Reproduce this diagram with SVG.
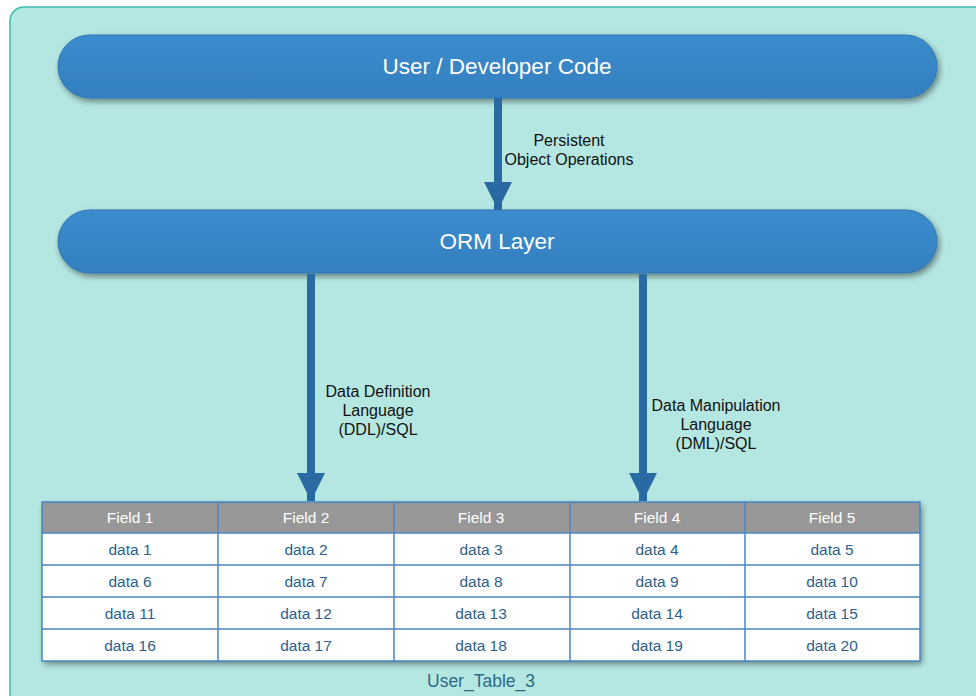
<svg xmlns="http://www.w3.org/2000/svg" width="976" height="696" viewBox="0 0 976 696">
  <defs>
    <linearGradient id="pillGrad" x1="0" y1="0" x2="0" y2="1">
      <stop offset="0" stop-color="#3b8ccd"/>
      <stop offset="1" stop-color="#347fbf"/>
    </linearGradient>
    <filter id="shadow" x="-5%" y="-30%" width="110%" height="170%">
      <feGaussianBlur in="SourceAlpha" stdDeviation="3"/>
      <feOffset dx="2" dy="3" result="b"/>
      <feComponentTransfer><feFuncA type="linear" slope="0.45"/></feComponentTransfer>
      <feMerge><feMergeNode/><feMergeNode in="SourceGraphic"/></feMerge>
    </filter>
    <marker id="head" viewBox="0 0 28 28" refX="28" refY="14" markerWidth="28" markerHeight="28" markerUnits="userSpaceOnUse" orient="auto">
      <path d="M0,0 L28,14 L0,28 Z" fill="#2a6aa3"/>
    </marker>
  </defs>
  <style>
    .pill { fill: url(#pillGrad); stroke: #2f76b3; stroke-width: 1; }
    .pill-text { font-family: "Liberation Sans", Arial, sans-serif; font-size: 22.5px; fill: #ffffff; text-anchor: middle; }
    .label { font-family: "Liberation Sans", Arial, sans-serif; font-size: 16px; fill: #111111; text-anchor: middle; }
    .shaft { stroke: #2a6aa3; stroke-width: 8; fill: none; }
    .head-cell { fill: #979797; }
    .head-text { font-family: "Liberation Sans", Arial, sans-serif; font-size: 15.5px; fill: #ffffff; text-anchor: middle; }
    .cell-text { font-family: "Liberation Sans", Arial, sans-serif; font-size: 15.5px; fill: #2d5f8e; text-anchor: middle; }
    .grid { stroke: #4a87c2; stroke-width: 1.5; fill: none; }
    .caption { font-family: "Liberation Sans", Arial, sans-serif; font-size: 17.5px; fill: #2d6a86; text-anchor: middle; }
  </style>

  <!-- background panel -->
  <rect x="10" y="7" width="990" height="720" rx="14" fill="#b5e7e2" stroke="#3dbcae" stroke-width="1.5"/>

  <g id="user-code">
    <rect class="pill" x="58" y="35" width="879" height="63" rx="31.5" filter="url(#shadow)"/>
    <text class="pill-text" x="497" y="74">User / Developer Code</text>
  </g>

  <g id="orm-layer">
    <rect class="pill" x="58" y="210" width="879" height="63" rx="31.5" filter="url(#shadow)"/>
    <text class="pill-text" x="497" y="249">ORM Layer</text>
  </g>

  <g id="connectors">
    <line class="shaft" x1="498" y1="98" x2="498" y2="210" marker-end="url(#head)"/>
    <text class="label"><tspan x="569" y="146">Persistent</tspan><tspan x="569" y="165">Object Operations</tspan></text>

    <line class="shaft" x1="311" y1="274" x2="311" y2="501" marker-end="url(#head)"/>
    <text class="label"><tspan x="378" y="397">Data Definition</tspan><tspan x="378" y="416">Language</tspan><tspan x="378" y="435">(DDL)/SQL</tspan></text>

    <line class="shaft" x1="643" y1="274" x2="643" y2="501" marker-end="url(#head)"/>
    <text class="label"><tspan x="716" y="411">Data Manipulation</tspan><tspan x="716" y="430">Language</tspan><tspan x="716" y="449">(DML)/SQL</tspan></text>
  </g>

  <g id="user-table-3">
    <rect x="42" y="502" width="878" height="159" fill="#ffffff" filter="url(#shadow)"/>
    <rect class="head-cell" x="42" y="502" width="878" height="31"/>
    <g class="grid">
      <rect x="42" y="502" width="878" height="159"/>
      <line x1="42" y1="533" x2="920" y2="533"/>
      <line x1="42" y1="565" x2="920" y2="565"/>
      <line x1="42" y1="597" x2="920" y2="597"/>
      <line x1="42" y1="629" x2="920" y2="629"/>
      <line x1="218" y1="502" x2="218" y2="661"/>
      <line x1="394" y1="502" x2="394" y2="661"/>
      <line x1="570" y1="502" x2="570" y2="661"/>
      <line x1="745" y1="502" x2="745" y2="661"/>
    </g>
    <text class="head-text" x="130" y="523">Field 1</text>
    <text class="head-text" x="306" y="523">Field 2</text>
    <text class="head-text" x="481" y="523">Field 3</text>
    <text class="head-text" x="657" y="523">Field 4</text>
    <text class="head-text" x="832" y="523">Field 5</text>

    <text class="cell-text" x="130" y="555">data 1</text>
    <text class="cell-text" x="306" y="555">data 2</text>
    <text class="cell-text" x="481" y="555">data 3</text>
    <text class="cell-text" x="657" y="555">data 4</text>
    <text class="cell-text" x="832" y="555">data 5</text>

    <text class="cell-text" x="130" y="587">data 6</text>
    <text class="cell-text" x="306" y="587">data 7</text>
    <text class="cell-text" x="481" y="587">data 8</text>
    <text class="cell-text" x="657" y="587">data 9</text>
    <text class="cell-text" x="832" y="587">data 10</text>

    <text class="cell-text" x="130" y="619">data 11</text>
    <text class="cell-text" x="306" y="619">data 12</text>
    <text class="cell-text" x="481" y="619">data 13</text>
    <text class="cell-text" x="657" y="619">data 14</text>
    <text class="cell-text" x="832" y="619">data 15</text>

    <text class="cell-text" x="130" y="651">data 16</text>
    <text class="cell-text" x="306" y="651">data 17</text>
    <text class="cell-text" x="481" y="651">data 18</text>
    <text class="cell-text" x="657" y="651">data 19</text>
    <text class="cell-text" x="832" y="651">data 20</text>

    <text class="caption" x="481" y="687">User_Table_3</text>
  </g>
</svg>
